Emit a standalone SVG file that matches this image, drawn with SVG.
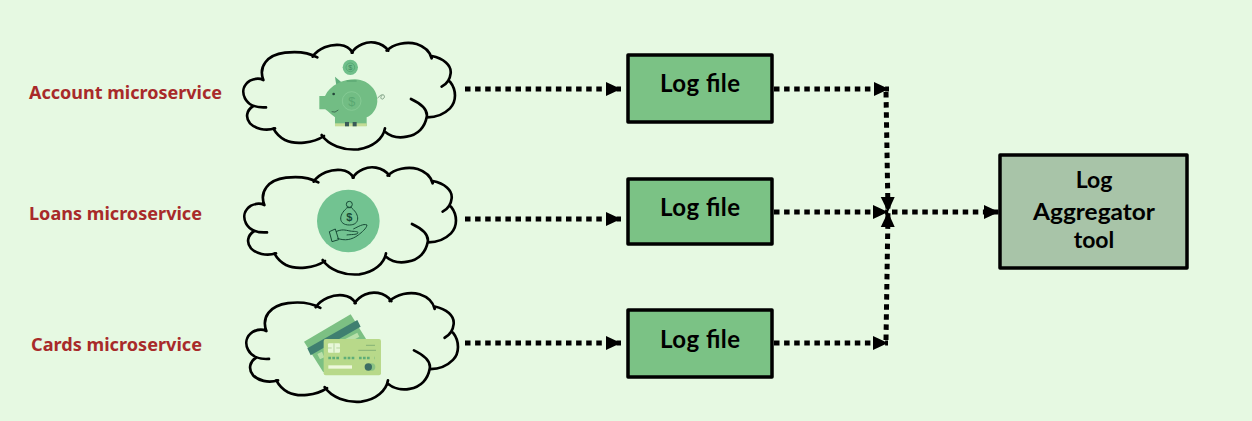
<svg xmlns="http://www.w3.org/2000/svg" xmlns:xlink="http://www.w3.org/1999/xlink" width="1252" height="421" viewBox="0 0 1252 421">
<style>
.bg{fill:#e6f9e2}
.cloud{fill:none;stroke:#000;stroke-width:8;stroke-linecap:round;stroke-linejoin:round}
.lbl{font-family:"Noto Sans","Open Sans",sans-serif;font-weight:700;font-size:17.5px;fill:#a82a2a}
.box{stroke:#000;stroke-width:3.5;stroke-linejoin:round}
.log{fill:#7bc285}
.agg{fill:#a8c4a8}
.t{font-family:"Lato","Open Sans",sans-serif;font-weight:700;font-size:24px;fill:#000;text-anchor:middle}
.ta{font-size:23px}
.dot{fill:none;stroke:#000;stroke-width:5;stroke-dasharray:5.5 4.6}
.ln{fill:none;stroke:#174a36;stroke-width:3}
.d{font-family:"Liberation Sans",sans-serif;text-anchor:middle}
</style>
<defs>
<marker id="arr" markerUnits="userSpaceOnUse" markerWidth="16" markerHeight="16" refX="15" refY="8" orient="auto">
<path d="M0 1L15 8L0 15Z" fill="#000"/>
</marker>
<path id="cl" class="cloud" d="M100 150C85 110 110 75 165 68C205 63 240 70 262 82M248 80C265 55 300 42 330 45C350 47 362 58 368 68M365 68C380 45 410 33 435 38C455 42 468 52 475 62M470 62C490 42 530 33 560 42C585 50 600 65 605 85M605 78C640 85 665 105 662 130C660 150 650 162 635 170M660 155C680 180 680 215 660 235C640 255 615 262 592 262M543 207C575 222 595 240 590 262C585 290 565 315 530 320C505 325 480 318 465 305M465 295C460 325 430 352 385 358C340 362 295 345 275 315M282 318C250 340 195 345 165 330C150 322 138 310 130 295M135 295C105 305 75 295 60 280C45 262 50 240 70 228M108 232C80 234 55 225 45 205C35 185 40 165 60 152C75 145 90 145 100 150"/>
</defs>
<rect class="bg" width="1252" height="421"/>
<g id="connectors">
<path class="dot" marker-end="url(#arr)" d="M465 89H621"/>
<path class="dot" marker-end="url(#arr)" d="M465 219H621"/>
<path class="dot" marker-end="url(#arr)" d="M465 343H621"/>
<path class="dot" marker-end="url(#arr)" d="M774 89H889"/>
<path class="dot" marker-end="url(#arr)" d="M774 212H888"/>
<path class="dot" marker-end="url(#arr)" d="M774 343H888"/>
<path class="dot" marker-end="url(#arr)" d="M886 92L888 212"/>
<path class="dot" marker-end="url(#arr)" d="M886 340L888 212"/>
<path class="dot" marker-end="url(#arr)" d="M892 212H999"/>
</g>
<g id="account-microservice">
<text class="lbl" x="29" y="98.500" textLength="193" lengthAdjust="spacingAndGlyphs">Account microservice</text>
<use href="#cl" transform="translate(230 30) scale(.3333)"/>
<g transform="translate(230 30) scale(.3333)">
<circle cx="361" cy="112" r="23" fill="#6fbf8a"/><circle cx="361" cy="112" r="13" fill="none" stroke="#4d9e6d" stroke-width="2"/>
<text class="d" x="361" y="120" font-size="22" fill="#3f8a5e">$</text>
<path d="M315 140L338 160L322 185Z" fill="#5fae7b"/>
<path d="M315 262C300 250 290 240 285 238H268V198H285C300 165 340 148 375 148C420 150 444 185 442 215C440 240 425 255 410 262V288H315Z" fill="#72bd84"/>
<rect x="315" y="280" width="95" height="9" fill="#c5dc96"/>
<rect x="345" y="276" width="12" height="13" fill="#3a5a58"/><rect x="368" y="276" width="12" height="13" fill="#3a5a58"/>
<circle cx="311" cy="192" r="4" fill="#24463a"/>
<path d="M305 245Q315 250 325 240" fill="none" stroke="#24463a" stroke-width="2"/>
<circle cx="365" cy="213" r="28" fill="none" stroke="#8ed09c" stroke-width="2"/>
<text class="d" x="365" y="227" font-size="38" fill="#5aa872">$</text>
<path d="M443 205C452 190 468 192 462 204C456 212 448 204 456 196" fill="none" stroke="#6b8f72" stroke-width="2.500"/>
<path d="M350 153H380" stroke="#5aa872" stroke-width="4"/>
</g>
</g>
<g id="loans-microservice">
<text class="lbl" x="29" y="219.500" textLength="173" lengthAdjust="spacingAndGlyphs">Loans microservice</text>
<use href="#cl" transform="translate(231 155) scale(.3333)"/>
<g transform="translate(230 155) scale(.3333)">
<circle cx="355" cy="198" r="94" fill="#72c391"/>
<circle cx="358" cy="148" r="9" class="ln"/>
<path class="ln" d="M350 158L366 158M350 160C325 180 325 210 358 210C390 210 390 180 366 160"/>
<text class="d" x="358" y="198" font-size="33" font-weight="700" fill="#174a36">$</text>
<path class="ln" d="M298 230L316 222L326 254L306 260ZM318 230C335 222 345 225 360 228C372 230 385 228 384 234C380 240 362 238 350 240M322 250C345 258 365 255 385 240C395 232 410 220 411 210C400 205 385 215 370 222"/>
</g>
</g>
<g id="cards-microservice">
<text class="lbl" x="31" y="350.500" textLength="171" lengthAdjust="spacingAndGlyphs">Cards microservice</text>
<use href="#cl" transform="translate(233 280) scale(.3333 .34)"/>
<g transform="translate(230 280) scale(.3333)">
<path d="M222 185L362 103L410 180L412 200L280 277Z" fill="#7cc083"/>
<path d="M232 205L382 120L392 140L242 226Z" fill="#3f7f70"/>
<path d="M262 222L276 215L283 232L270 238ZM330 185L382 158L388 170L338 198Z" fill="#b9e0a9"/>
<rect x="281" y="177" width="172" height="109" rx="6" fill="#b8d98a"/>
<rect x="294" y="190" width="36" height="28" rx="3" fill="#e8f7d8"/>
<path d="M312 190V218M294 204H305M319 204H330" stroke="#9cc584" stroke-width="2"/>
<path d="M385 211H438M408 196H435" stroke="#6d9e6a" stroke-width="2"/>
<path d="M295 234H434" stroke="#5fae78" stroke-width="7" stroke-dasharray="8 4 8 4 8 14"/>
<rect x="295" y="256" width="71" height="10" fill="#eef8dc"/>
<circle cx="425" cy="261" r="11" fill="#8cc485"/><circle cx="415" cy="261" r="11" fill="#3c6e63"/>
</g>
</g>
<g id="log-file-1"><rect class="box log" x="628" y="55" width="144" height="67"/><text class="t" x="700" y="92" textLength="80">Log file</text></g>
<g id="log-file-2"><rect class="box log" x="628" y="179" width="144" height="65"/><text class="t" x="700" y="216" textLength="80">Log file</text></g>
<g id="log-file-3"><rect class="box log" x="628" y="310" width="144" height="67"/><text class="t" x="700" y="348" textLength="80">Log file</text></g>
<g id="log-aggregator">
<rect class="box agg" x="1000" y="155" width="187" height="113"/>
<text class="t ta" x="1094" y="188">Log</text>
<text class="t ta" x="1094" y="220" textLength="122" lengthAdjust="spacingAndGlyphs">Aggregator</text>
<text class="t ta" x="1094" y="248">tool</text>
</g>
</svg>
